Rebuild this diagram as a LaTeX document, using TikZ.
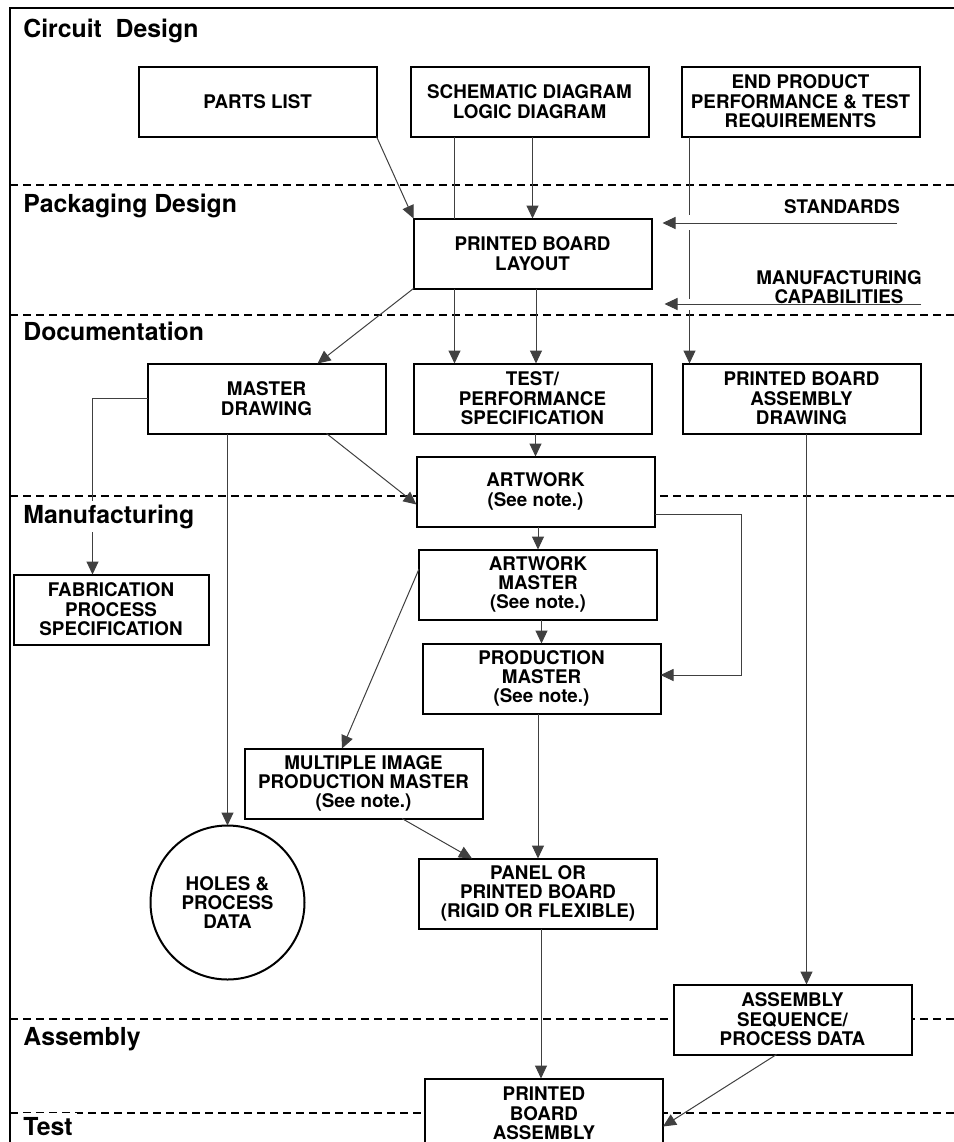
\documentclass[tikz,border=0pt]{standalone}
\usepackage{fontspec}
\setmainfont{TeX Gyre Heros}
\usetikzlibrary{
  arrows.meta,
  positioning,
  calc
}
\pgfdeclarelayer{background}
\pgfsetlayers{background,main}
\tikzset{
  base/.style={
    text=black,
    font=\fontsize{9.4}{9.7}\selectfont\bfseries,
    align=center,
    inner sep=2pt,
  },
  block/.style={
    base,
    draw=black,
    fill=white,
    line width=1pt,
    outer sep=0pt,
    minimum width=119pt,
    minimum height=35pt,
  },
  narrowblock/.style={
    block,
    minimum width=97.5pt,
  },
  datacircle/.style={
    base,
    circle,
    draw=black,
    fill=white,
    line width=1pt,
    outer sep=0pt,
    minimum size=77pt,
  },
  phase/.style={
    font=\fontsize{12.4}{14}\selectfont\bfseries,
    anchor=base west,
    fill=white,
    inner sep=2pt,
  },
  phaseline/.style={
    dash pattern=on 4pt off 2.5pt,
    line width=0.7pt,
  },
  flow/.style={
    -{Triangle[length=6.5pt, width=6pt]},
    line width=0.5pt,
    draw=black!75,
  },
  link/.style={
    line width=0.5pt,
    draw=black!75,
  },
  inlabel/.style={
    base,
    inner sep=0pt,
  },
}

\begin{document}
\begin{tikzpicture}[x=1pt, y=1pt]

\useasboundingbox (0,0) rectangle (477,-571);
\clip (0,0) rectangle (477,-571);

% === Frame ===
\draw[line width=1pt] (4.75,-571) -- (4.75,-3.75) -- (477,-3.75);

% === Phase separators ===
\begin{pgfonlayer}{background}
  \foreach \y in {-92.5,-157.5,-248,-509.5,-556.5}
    \draw[phaseline] (5,\y) -- (477,\y);
\end{pgfonlayer}

% === ROW 1: Circuit design ===

\node[block]
  (schem) at (264.75,-50.75) {SCHEMATIC DIAGRAM\\LOGIC DIAGRAM};

\node[block, left=17pt of schem]
  (parts) {PARTS LIST};

\node[block, right=16.5pt of schem]
  (endprod) {END PRODUCT\\PERFORMANCE \& TEST\\REQUIREMENTS};

% === ROW 2: Packaging design ===

\node[block, below=41pt of schem, xshift=1.5pt]
  (layout) {PRINTED BOARD\\LAYOUT};

\node[inlabel]
  (stdlabel) at (421,-103.25) {STANDARDS};

\node[inlabel]
  (mfglabel) at (419.5,-143.5) {MANUFACTURING\\CAPABILITIES};

\coordinate (stdR) at (448.5,-111.5);
\coordinate (mfgR) at (460.5,-152);

% === ROW 3: Documentation ===

\node[block, below=37.5pt of layout]
  (testspec) {TEST/\\PERFORMANCE\\SPECIFICATION};

\node[block, left=14pt of testspec]
  (master) {MASTER\\DRAWING};

\node[block, right=15.5pt of testspec]
  (pbadraw) {PRINTED BOARD\\ASSEMBLY\\DRAWING};

\node[block, below=11.5pt of testspec, xshift=1.5pt]
  (artwork) {ARTWORK\\(See note.)};

% === ROW 4: Manufacturing ===

\node[narrowblock, below=70.5pt of master, xshift=-77.75pt]
  (fab) {FABRICATION\\PROCESS\\SPECIFICATION};

\node[block, below=11.5pt of artwork, xshift=1.25pt]
  (artmaster) {ARTWORK\\MASTER\\(See note.)};

\node[block, below=12pt of artmaster, xshift=1.75pt]
  (prodmaster) {PRODUCTION\\MASTER\\(See note.)};

\node[block, below=72.5pt of prodmaster, xshift=-1.75pt]
  (panel) {PANEL OR\\PRINTED BOARD\\(RIGID OR FLEXIBLE)};

\node[block, above=20pt of panel, xshift=-87.25pt]
  (multi) {MULTIPLE IMAGE\\PRODUCTION MASTER\\(See note.)};

\node[datacircle, below=196pt of master, xshift=-19.5pt]
  (holes) {HOLES \&\\PROCESS\\DATA};

% === ROW 5: Assembly ===

\node[block, below=275.5pt of pbadraw, xshift=-4.5pt]
  (asmseq) {ASSEMBLY\\SEQUENCE/\\PROCESS DATA};

\node[block, below=75pt of panel, xshift=3pt]
  (pba) {PRINTED\\BOARD\\ASSEMBLY};

% === Connectors: circuit -> packaging ===
\draw[flow] (parts.south east) -- (layout.north west);
\coordinate (sl) at ($(layout.north west)+(20.5,0)$);
\draw[link] (sl |- schem.south) -- (sl);
\draw[flow] (layout.north |- schem.south) -- (layout.north);

\draw[flow] (stdR) -- ($(layout.east |- stdR)+(5.5,0)$);
\draw[flow] (mfgR) -- ($(layout.east |- mfgR)+(6.5,0)$);

% end product line, broken where the side arrows cross
\coordinate (ep) at ($(endprod.south west)+(4,0)$);
\draw[link] (ep) -- ($(ep |- stdR)+(0,4)$);
\draw[link] ($(ep |- stdR)+(0,-3.5)$) -- ($(ep |- mfgR)+(0,2.5)$);
\draw[flow] ($(ep |- mfgR)+(0,-3)$) -- (ep |- pbadraw.north);

% === Connectors: packaging -> documentation ===
\draw[flow] (layout.south west) -- ($(master.north)+(25.5,0)$);
\coordinate (lt) at ($(layout.south west)+(20.5,0)$);
\draw[flow] (lt) -- (lt |- testspec.north);
\coordinate (lc) at ($(layout.south)+(1.75,0)$);
\draw[flow] (lc) -- (lc |- testspec.north);

\draw[flow] (artwork.north |- testspec.south) -- (artwork.north);
\draw[flow] ($(master.south)+(30,0)$) -- ($(artwork.west)+(0,-6.5)$);
\draw[flow] (master.west) -| ($(fab.north)+(-9.25,0)$);
\draw[flow] (holes.north |- master.south) -- (holes.north);

% === Connectors: manufacturing ===
\draw[flow] (artmaster.north |- artwork.south) -- (artmaster.north);
\draw[flow] ($(artwork.east)+(0,-11.5)$) -- ++(43.5,0)
  |- ($(prodmaster.east)+(0,1.75)$);
\draw[flow] (prodmaster.north |- artmaster.south) -- (prodmaster.north);
\draw[flow] ($(artmaster.west)+(0,7.75)$) -- ($(multi.north)+(-10.75,0)$);
\draw[flow] (panel.north |- prodmaster.south) -- (panel.north);
\draw[flow] ($(multi.south)+(19.25,0)$) -- ($(panel.north)+(-33,0)$);

% === Connectors: assembly ===
\coordinate (pd) at ($(pbadraw.south)+(2.5,0)$);
\draw[flow] (pd) -- (pd |- asmseq.north);
\coordinate (pn) at ($(panel.south)+(1.5,0)$);
\draw[flow] (pn) -- (pn |- pba.north);
\draw[flow] ($(asmseq.south)+(-8,0)$) -- ($(pba.east)+(0,-6.5)$);

% === Phase labels ===
\node[phase] (circuit) at (9.5,-18.5) {Circuit\ \ Design};
\node[phase] (packaging) at (9.5,-106) {Packaging Design};
\node[phase] (documentation) at (9.5,-170) {Documentation};
\node[phase] (manufacturing) at (9.5,-261.5) {Manufacturing};
\node[phase] (assembly) at (9.5,-522.5) {Assembly};
\node[phase] (test) at (9.5,-567.5) {Test};

\end{tikzpicture}
\end{document}
